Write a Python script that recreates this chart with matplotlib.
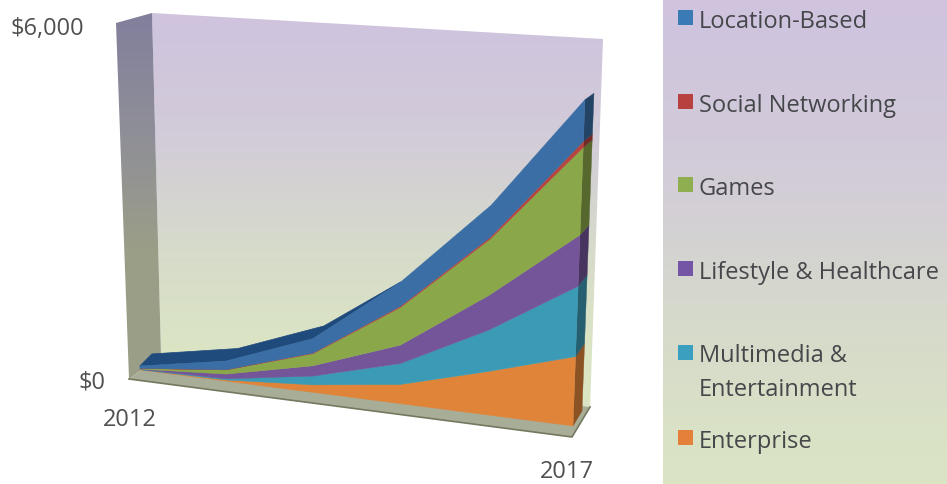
import matplotlib
matplotlib.use("Agg")
import matplotlib.pyplot as plt
import numpy as np
from matplotlib.colors import LinearSegmentedColormap, to_rgb
from matplotlib.patches import Polygon, Rectangle

# values, bottom of the stack first
years = [2012, 2013, 2014, 2015, 2016, 2017]
enterprise = [5, 20, 125, 310, 690, 1090]
multimedia = [5, 20, 145, 340, 660, 1105]
lifestyle = [5, 80, 170, 300, 560, 805]
games = [10, 70, 200, 615, 900, 1375]
social = [2, 4, 10, 20, 30, 95]
location = [43, 146, 240, 395, 510, 655]

series = [enterprise, multimedia, lifestyle, games, social, location]
colors = ["#e0843a", "#3b9ab5", "#74559a", "#8aa84a", "#b8443f", "#3a6ea5"]

y_max = 6000
y_tick_labels = ["$6,000", "$0"]
legend_labels = ["Location-Based", "Social Networking", "Games",
                 "Lifestyle & Healthcare", "Multimedia &\nEntertainment", "Enterprise"]
legend_colors = ["#3a7ab5", "#b8403f", "#8fae50", "#7455a5", "#3b9fc0", "#e5803a"]
legend_y = [19, 103, 186, 270, 354, 439]
legend_text_y = [22, 106, 189, 273, 373, 442]

# corners of the tilted planes in image pixels: (2012,0) (2017,0) (2017,max) (2012,max)
FRONT = np.array([[140, 371], [573, 427], [587, 45], [128, 21]], float)
BACK = np.array([[152, 359], [582, 412], [596, 40], [141, 9]], float)

wall_stops = ["#cfc3df", "#d2cbd9", "#d6dacb", "#dbe5c4"]
cmap_wall = LinearSegmentedColormap.from_list("wall", wall_stops)
cmap_back = LinearSegmentedColormap.from_list(
    "back", list(zip([0, 0.3, 0.58, 0.85, 1], wall_stops + ["#dbe5c4"])))
cmap_side = LinearSegmentedColormap.from_list("side", ["#827f9c", "#8f8f98", "#9b9f86", "#9a9e88"])


def project(year, value, plane=FRONT):
    t = (np.asarray(year, float) - years[0]) / (years[-1] - years[0])
    v = np.asarray(value, float) / y_max
    bottom = plane[0][:, None] * (1 - t) + plane[1][:, None] * t
    top = plane[3][:, None] * (1 - t) + plane[2][:, None] * t
    pts = bottom * (1 - v) + top * v
    return pts.T


def darker(color, f=0.62):
    return tuple(c * f for c in to_rgb(color))


def gradient(ax, cmap, x0, x1, y0, y1, clip=None):
    grad = np.linspace(0, 1, 256)[:, None]
    im = ax.imshow(grad, cmap=cmap, extent=(x0, x1, y1, y0), aspect="auto", zorder=1)
    if clip is not None:
        patch = Polygon(clip, closed=True, transform=ax.transData, fc="none", ec="none")
        ax.add_patch(patch)
        im.set_clip_path(patch)


def main():
    plt.rcParams["font.family"] = ["Open Sans", "DejaVu Sans"]
    fig = plt.figure(figsize=(9.47, 4.85), dpi=100)
    ax = fig.add_axes([0, 0, 1, 1])

    # walls and floor
    gradient(ax, cmap_back, 140, 610, 14, 410, [(152, 14), (603, 40), (590, 410), (161, 356)])
    gradient(ax, cmap_side, 110, 170, 14, 380, [(116, 24), (152, 14), (161, 356), (129, 380)])
    ax.add_patch(Polygon([(129, 380), (161, 356), (590, 408), (572, 438)], fc="#a8ad97", ec="none", zorder=2))
    ax.plot([129, 572, 590], [380, 438, 408], color="#74785f", lw=1.2, zorder=2)

    stacked = np.cumsum(np.array(series, float), axis=0)
    lower = np.vstack([np.zeros(len(years)), stacked[:-1]])

    # top face, only shows while the curve is still flat, gone by 2015
    front_top = project(years[:4], stacked[-1][:4])
    back_top = project(years[:3], stacked[-1][:3], BACK)
    ax.add_patch(Polygon(np.vstack([front_top, back_top[::-1]]), fc="#1f4a7c", ec="#1f4a7c", lw=0.5, zorder=3))

    # right hand side of the block
    for low, high, color in zip(lower, stacked, colors):
        ys = [years[-1]] * 2
        vals = [low[-1], high[-1]]
        side = np.vstack([project(ys, vals), project(ys, vals, BACK)[::-1]])
        ax.add_patch(Polygon(side, fc=darker(color), ec=darker(color), lw=0.3, zorder=3))

    # front faces
    for low, high, color in zip(lower, stacked, colors):
        face = np.vstack([project(years, high), project(years, low)[::-1]])
        ax.add_patch(Polygon(face, fc=color, ec=color, lw=0.3, zorder=4))

    # legend panel
    gradient(ax, cmap_wall, 663, 947, 0, 485)
    for label, color, y, ty in zip(legend_labels, legend_colors, legend_y, legend_text_y):
        ax.add_patch(Rectangle((678, y - 8), 15, 15, fc=color, ec="none", zorder=5))
        ax.text(699, ty, label, fontsize=17, color="#45474a", va="center", ha="left",
                linespacing=1.55, zorder=5)

    # axis text
    text_kw = dict(fontsize=17, color="#50504e", va="center")
    ax.text(10, 29, y_tick_labels[0], ha="left", **text_kw)
    ax.text(79, 383, y_tick_labels[1], ha="left", **text_kw)
    ax.text(103, 420, str(years[0]), ha="left", **text_kw)
    ax.text(540, 472, str(years[-1]), ha="left", **text_kw)

    ax.set_xlim(0, 947)
    ax.set_ylim(485, 0)
    ax.axis("off")
    fig.savefig("out.png", dpi=100)


if __name__ == '__main__':
    main()
